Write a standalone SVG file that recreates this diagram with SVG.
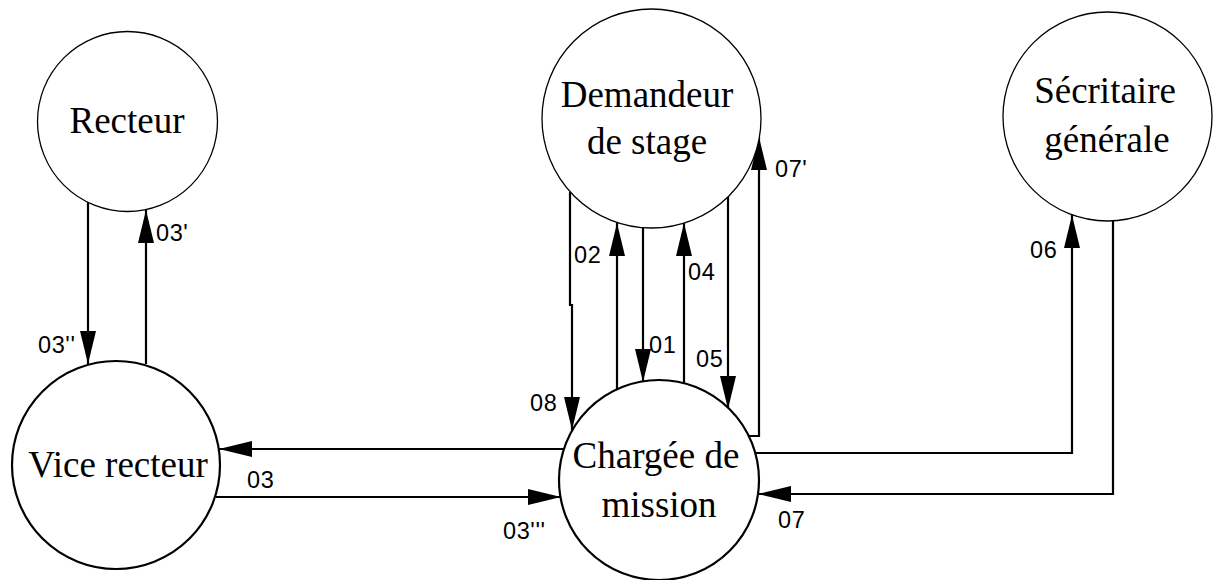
<svg xmlns="http://www.w3.org/2000/svg" width="1214" height="580" viewBox="0 0 1214 580">
<style>
.node{fill:#fff;stroke:#000}
.thin{stroke-width:1.3}
.thick{stroke-width:2.2}
.nt{font-family:"Liberation Serif","Times New Roman",serif;font-size:37px;fill:#000;text-anchor:middle}
.lbl{font-family:"Liberation Sans",Arial,sans-serif;font-size:23.5px;letter-spacing:0.6px;fill:#000}
.c{fill:none;stroke:#000;stroke-width:2.2;marker-end:url(#ah)}
</style>
<defs>
<marker id="ah" markerUnits="userSpaceOnUse" markerWidth="34" markerHeight="18" viewBox="0 0 34 18" refX="33" refY="9" orient="auto">
<path d="M0,1 L33,9 L0,17 z" fill="#000"/>
</marker>
</defs>
<rect width="1214" height="580" fill="#fff"/>
<g id="connectors">
<path class="c" d="M88,202 V364"/>
<path class="c" d="M146,364 V210"/>
<path class="c" d="M564,449 H219"/>
<path class="c" d="M216,497 H561"/>
<path class="c" d="M570,192 V305 H572 V430"/>
<path class="c" d="M617,389 V223"/>
<path class="c" d="M643,228 V382"/>
<path class="c" d="M684,383 V223"/>
<path class="c" d="M728,197 V409"/>
<path class="c" d="M748,436 H759 V137"/>
<path class="c" d="M755,453 H1072 V215"/>
<path class="c" d="M1113,221 V494 H758"/>
</g>
<g id="labels">
<text class="lbl" x="156" y="241">03'</text>
<text class="lbl" x="38" y="353">03''</text>
<text class="lbl" x="247" y="488">03</text>
<text class="lbl" x="503" y="539">03'''</text>
<text class="lbl" x="530" y="411">08</text>
<text class="lbl" x="574" y="263">02</text>
<text class="lbl" x="649" y="353">01</text>
<text class="lbl" x="688" y="280">04</text>
<text class="lbl" x="696" y="367">05</text>
<text class="lbl" x="775" y="177">07'</text>
<text class="lbl" x="1030" y="258">06</text>
<text class="lbl" x="778" y="528">07</text>
</g>
<g id="recteur">
<circle class="node thin" cx="127.5" cy="121.5" r="90"/>
<text class="nt" x="127" y="133">Recteur</text>
</g>
<g id="vice-recteur">
<circle class="node thick" cx="116" cy="465" r="104"/>
<text class="nt" x="118" y="477">Vice recteur</text>
</g>
<g id="demandeur">
<circle class="node thin" cx="651.5" cy="118.5" r="109.5"/>
<text class="nt" x="647" y="107">Demandeur</text>
<text class="nt" x="647" y="154">de stage</text>
</g>
<g id="secretaire">
<circle class="node thin" cx="1107.5" cy="116.5" r="104.5"/>
<text class="nt" x="1105" y="103">Sécritaire</text>
<text class="nt" x="1107" y="152">générale</text>
</g>
<g id="chargee">
<circle class="node thick" cx="659" cy="480" r="100"/>
<text class="nt" x="656" y="468">Chargée de</text>
<text class="nt" x="659" y="517">mission</text>
</g>
</svg>
